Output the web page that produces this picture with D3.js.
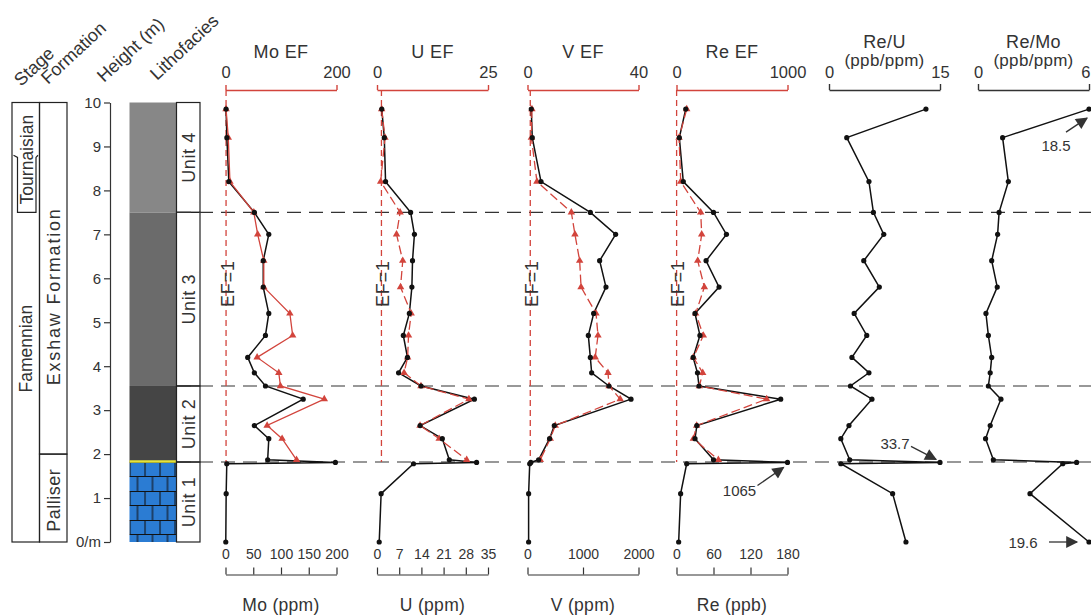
<!DOCTYPE html>
<html>
<head>
<meta charset="utf-8">
<style>
  body { margin: 0; background: #fff; }
  svg { font-family: "Liberation Sans", Arial, sans-serif; }
  text { fill: #333; }
  .box { fill: none; stroke: #222; stroke-width: 1.2; }
  .bound { stroke: #333; stroke-width: 1.2; stroke-dasharray: 14,8; }
  .ef1 { stroke: #d2443c; stroke-width: 1.3; stroke-dasharray: 6,4; }
  .conc { fill: none; stroke: #111; stroke-width: 1.5; }
  .ef { fill: none; stroke: #d2443c; stroke-width: 1.3; }
</style>
</head>
<body>
<svg id="chart" width="1091" height="616"></svg>
<script src="https://cdn.jsdelivr.net/npm/d3@7"></script>
<script>
// sample heights (m), top to bottom
let heights = [9.85, 9.2, 8.2, 7.5, 7.0, 6.4, 5.8, 5.2, 4.7, 4.2, 3.85, 3.55, 3.25, 2.65, 2.35, 1.87, 1.81, 1.78, 1.1, 0]

// concentrations (black)
let mo = [1, 2.5, 6, 52, 78, 68, 68, 78, 72, 40, 52, 72, 140, 52, 78, 76, 198, 2.3, 1.2, 0.5]
let u = [1.5, 2.3, 2.7, 10.6, 11.8, 11.2, 11.0, 10.2, 8.3, 9.6, 6.8, 13.9, 30.7, 13.6, 20.6, 22.8, 31.4, 11.5, 1.3, 0.7]
let v = [68, 86, 243, 1132, 1588, 1300, 1414, 1192, 1096, 1132, 1156, 1468, 1865, 483, 398, 200, 60, 40, 20, 20]
let re = [15, 4.6, 11, 60, 81, 48, 69, 30, 38, 27, 34, 36.5, 169, 33, 30, 60, 1065, 16.5, 6.7, 3.5]

// enrichment factors (red), Exshaw samples only
let moEF = [1, 5, 8, 51, 58, 69, 69, 116, 121, 57, 96, 99, 178, 75, 102, 128]
let uEF = [1.05, 1.8, 0.83, 5.2, 4.4, 5.8, 5.3, 7.7, 7.1, 6.9, 6.1, 9.9, 20.7, 9.7, 14.0, 20.2]
let vEF = [1.6, 1.4, 3.4, 15.8, 17.1, 18.8, 19.3, 24.7, 25.4, 24.4, 29.0, 29.4, 33.4, 10.0, 8.2, 4.6]
let reEF = [92, 23, 38, 218, 227, 191, 251, 173, 242, 152, 236, 206, 812, 182, 152, 377]

// ratios
let reU = [13.1, 2.4, 5.4, 6.0, 7.4, 4.7, 6.8, 3.4, 5.1, 3.1, 5.4, 2.9, 5.8, 2.7, 1.6, 2.8, 33.7, 1.6, 8.6, 10.4]
let reMo = [18.5, 1.33, 1.64, 1.14, 1.06, 0.74, 1.04, 0.43, 0.56, 0.74, 0.66, 0.56, 1.24, 0.66, 0.41, 0.83, 5.33, 4.58, 2.81, 19.6]

// lithology units
let unitNames = ["Unit 1", "Unit 2", "Unit 3", "Unit 4"]
let unitBase = [0, 1.82, 3.55, 7.5]
let unitTop = [1.82, 3.55, 7.5, 10]
let boundaries = [7.5, 3.55, 1.82]

let formations = ["Palliser", "Exshaw Formation"]
let formationBase = [0, 2.0]
let formationTop = [2.0, 10]

let heightTicks = [0, 1, 2, 3, 4, 5, 6, 7, 8, 9, 10]
let moTicks = [0, 50, 100, 150, 200]
let uTicks = [0, 7, 14, 21, 28, 35]
let vTicks = [0, 1000, 2000]
let reTicks = [0, 60, 120, 180]

let svg = d3.select("#chart")
let red = "#d2443c"
let font = "Liberation Sans, Arial, sans-serif"
let y = d3.scaleLinear().domain([0, 10]).range([542, 102.5])
let W = 111

// brick pattern for the limestone
let defs = svg.append("defs")
let brick = defs.append("pattern").attr("id", "brick")
    .attr("patternUnits", "userSpaceOnUse")
    .attr("x", 129.5).attr("y", y(1.82))
    .attr("width", 15).attr("height", 29)
brick.append("rect").attr("width", 15).attr("height", 29).attr("fill", "#2b7cd3")
brick.append("path")
    .attr("d", "M0,0.5H15M0,14.5H15M0.5,0V14.5M8,14.5V29")
    .attr("stroke", "#111").attr("stroke-width", 1.1).attr("fill", "none")

defs.append("marker").attr("id", "arrow")
    .attr("viewBox", "0 0 10 10").attr("refX", 9).attr("refY", 5)
    .attr("markerWidth", 14).attr("markerHeight", 12)
    .attr("markerUnits", "userSpaceOnUse").attr("orient", "auto")
    .append("path").attr("d", "M0,0L10,5L0,10Z").attr("fill", "#333")

// rotated column headers
let headers = [["Stage", 21, 87], ["Formation", 48, 85], ["Height (m)", 104, 83], ["Lithofacies", 157, 81]]
svg.selectAll("text.head").data(headers).enter().append("text")
    .attr("class", "head")
    .attr("transform", d => `translate(${d[1]},${d[2]}) rotate(-43)`)
    .attr("font-size", 18)
    .text(d => d[0])

// stage column
svg.append("rect").attr("class", "box").attr("x", 12).attr("y", y(10))
    .attr("width", 27.5).attr("height", y(0) - y(10))
svg.append("path").attr("class", "box")
    .attr("d", `M13.5,${y(8.8)}L17.5,${y(8.75)}V${y(7.5)}H36V${y(8.75)}L38,${y(8.8)}`)
svg.append("text").attr("transform", `translate(32,${y(4.4)}) rotate(-90)`)
    .attr("text-anchor", "middle").attr("font-size", 17.5).text("Famennian")
svg.append("text").attr("transform", `translate(33,${y(8.7)}) rotate(-90)`)
    .attr("text-anchor", "middle").attr("font-size", 17.5).text("Tournaisian")

// formation column
svg.selectAll("rect.form").data(formations).enter().append("rect")
    .attr("class", "box form")
    .attr("x", 39.5).attr("width", 27.5)
    .attr("y", (d, i) => y(formationTop[i]))
    .attr("height", (d, i) => y(formationBase[i]) - y(formationTop[i]))
svg.selectAll("text.form").data(formations).enter().append("text")
    .attr("class", "form")
    .attr("transform", (d, i) => `translate(60,${y(i == 0 ? 0.95 : 5.59)}) rotate(-90)`)
    .attr("text-anchor", "middle").attr("font-size", 18)
    .attr("letter-spacing", (d, i) => i == 0 ? 0.5 : 1.8)
    .text(d => d)

// height axis
let hAxis = svg.append("g").attr("transform", "translate(110,0)")
    .call(d3.axisLeft(y).tickValues(heightTicks).tickSize(6).tickSizeOuter(0)
        .tickFormat(d => d == 0 ? "0/m" : d))
hAxis.selectAll("text").attr("font-size", 15).attr("fill", "#333").style("font-family", font)
hAxis.selectAll("line,path").attr("stroke", "#333").attr("stroke-width", 1.2)

// lithology column
let litho = ["url(#brick)", "#454545", "#6b6b6b", "#878787"]
svg.selectAll("rect.lith").data(unitNames).enter().append("rect")
    .attr("class", "lith")
    .attr("x", 129.5).attr("width", 47)
    .attr("y", (d, i) => y(unitTop[i]))
    .attr("height", (d, i) => y(unitBase[i]) - y(unitTop[i]))
    .attr("fill", (d, i) => litho[i])
svg.append("line").attr("x1", 129.5).attr("x2", 176.5)
    .attr("y1", y(1.83)).attr("y2", y(1.83))
    .attr("stroke", "#e4e43c").attr("stroke-width", 2.5)

// unit column
svg.selectAll("rect.unit").data(unitNames).enter().append("rect")
    .attr("class", "box unit")
    .attr("x", 176.5).attr("width", 23.5)
    .attr("y", (d, i) => y(unitTop[i]))
    .attr("height", (d, i) => y(unitBase[i]) - y(unitTop[i]))
svg.selectAll("text.unit").data(unitNames).enter().append("text")
    .attr("class", "unit")
    .attr("transform", (d, i) => `translate(195,${y((unitBase[i] + unitTop[i]) / 2)}) rotate(-90)`)
    .attr("text-anchor", "middle").attr("font-size", 18).attr("letter-spacing", 0.6).text(d => d)

// unit boundaries
svg.selectAll("line.bound").data(boundaries).enter().append("line")
    .attr("class", "bound")
    .attr("x1", 177).attr("x2", 1091)
    .attr("y1", d => y(d)).attr("y2", d => y(d))

let panels = [
    { title: "Mo EF", x0: 225.5, efMax: 200, ef: moEF, conc: mo, max: 200, ticks: moTicks, label: "Mo (ppm)", dash: null },
    { title: "U EF", x0: 377, efMax: 25, ef: uEF, conc: u, max: 35, ticks: uTicks, label: "U (ppm)", dash: "9,4" },
    { title: "V EF", x0: 527.5, efMax: 40, ef: vEF, conc: v, max: 2000, ticks: vTicks, label: "V (ppm)", dash: "9,4" },
    { title: "Re EF", x0: 676.5, efMax: 1000, ef: reEF, conc: re, max: 180, ticks: reTicks, label: "Re (ppb)", dash: "9,4" },
    { title: "Re/U", sub: "(ppb/ppm)", x0: 829, max: 15, conc: reU },
    { title: "Re/Mo", sub: "(ppb/ppm)", x0: 978, max: 6, conc: reMo }
]

function styleTop(sel, color) {
    sel.selectAll("line,path").attr("stroke", color).attr("stroke-width", 1.4)
    sel.selectAll("text").attr("font-size", 16.5).attr("fill", "#333").style("font-family", font)
}

let xs = []
panels.forEach(p => {
    let x = d3.scaleLinear().domain([0, p.max]).range([p.x0, p.x0 + W]).clamp(true)
    xs.push(x)
    let g = svg.append("g")
    let cx = p.x0 + W / 2

    if (p.ef) {
        let xe = d3.scaleLinear().domain([0, p.efMax]).range([p.x0, p.x0 + W])
        g.append("text").attr("x", cx).attr("y", 58).attr("text-anchor", "middle")
            .attr("font-size", 18).attr("letter-spacing", 0.4).text(p.title)
        let top = g.append("g").attr("transform", "translate(0,90)")
            .call(d3.axisTop(xe).tickValues([0, p.efMax]).tickSizeInner(5).tickSizeOuter(0)
                .tickPadding(7).tickFormat(d => d))
        styleTop(top, red)

        // EF = 1 reference
        g.append("line").attr("class", "ef1")
            .attr("x1", xe(1)).attr("x2", xe(1)).attr("y1", 90).attr("y2", y(1.82))
        g.append("text").attr("transform", `translate(${xe(1) + 7.5},${y(5.88)}) rotate(-90)`)
            .attr("text-anchor", "middle")
            .attr("font-size", 18).attr("letter-spacing", 0.8).text("EF=1")

        // bottom concentration axis
        let bot = g.append("g").attr("transform", "translate(0,574.5)")
            .call(d3.axisTop(x).tickValues(p.ticks).tickSizeInner(7).tickSizeOuter(0)
                .tickPadding(9).tickFormat(d => d))
        bot.selectAll("line,path").attr("stroke", "#333").attr("stroke-width", 1.2)
        bot.selectAll("text").attr("font-size", 14).attr("fill", "#333").style("font-family", font)
        g.append("text").attr("x", cx).attr("y", 611).attr("text-anchor", "middle")
            .attr("font-size", 17.5).attr("letter-spacing", 0.3).text(p.label)

        // concentration line
        let pts = p.conc.map((c, i) => [x(c), y(heights[i])])
        g.append("path").attr("class", "conc").attr("d", d3.line()(pts))

        // EF line
        let ept = p.ef.map((e, i) => [xe(e), y(heights[i])])
        g.append("path").attr("class", "ef").attr("d", d3.line()(ept))
            .attr("stroke-dasharray", p.dash)
        g.selectAll("path.tri").data(ept).enter().append("path")
            .attr("class", "tri")
            .attr("transform", d => `translate(${d[0]},${d[1]})`)
            .attr("d", d3.symbol(d3.symbolTriangle).size(24))
            .attr("fill", red)
        g.selectAll("circle").data(pts).enter().append("circle")
            .attr("cx", d => d[0]).attr("cy", d => d[1]).attr("r", 2.6).attr("fill", "#111")
    } else {
        g.append("text").attr("x", cx).attr("y", 48).attr("text-anchor", "middle")
            .attr("font-size", 18).attr("letter-spacing", 0.4).text(p.title)
        g.append("text").attr("x", cx).attr("y", 66).attr("text-anchor", "middle")
            .attr("font-size", 17).attr("letter-spacing", 0.3).text(p.sub)
        let top = g.append("g").attr("transform", "translate(0,90)")
            .call(d3.axisTop(x).tickValues([0, p.max]).tickSizeInner(6).tickSizeOuter(0)
                .tickPadding(6).tickFormat(d => d))
        styleTop(top, "#333")
        // keep a label at the right page edge inside the picture
        top.selectAll("text").filter(d => x(d) + 6 > 1091)
            .attr("text-anchor", "end").attr("x", d => 1090 - x(d))
        let pts = p.conc.map((c, i) => [x(c), y(heights[i])])
        g.append("path").attr("class", "conc").attr("d", d3.line()(pts)).attr("stroke-width", 1.4)
        g.selectAll("circle").data(pts).enter().append("circle")
            .attr("cx", d => d[0]).attr("cy", d => d[1]).attr("r", 2.6).attr("fill", "#111")
    }
})

// off-scale values, labelled with arrows
let notes = [
    { panel: 3, idx: 16, text: "1065", tail: [-30, 23], head: [-4, 5], label: [-48, 28] },
    { panel: 4, idx: 16, text: "33.7", tail: [-29, -16], head: [-4, -3], label: [-45, -19] },
    { panel: 5, idx: 0, text: "18.5", tail: [-23, 23], head: [-2, 9], label: [-33, 36] },
    { panel: 5, idx: 19, text: "19.6", tail: [-40, 0], head: [-12, 0], label: [-66, 0] }
]
notes.forEach(n => {
    let p = panels[n.panel]
    let px = xs[n.panel](p.conc[n.idx]), py = y(heights[n.idx])
    svg.append("line")
        .attr("x1", px + n.tail[0]).attr("y1", py + n.tail[1])
        .attr("x2", px + n.head[0]).attr("y2", py + n.head[1])
        .attr("stroke", "#333").attr("stroke-width", 1.3)
        .attr("marker-end", "url(#arrow)")
    svg.append("text").attr("x", px + n.label[0]).attr("y", py + n.label[1])
        .attr("text-anchor", "middle").attr("dominant-baseline", "central")
        .attr("font-size", 15).text(n.text)
})
</script>
</body>
</html>
